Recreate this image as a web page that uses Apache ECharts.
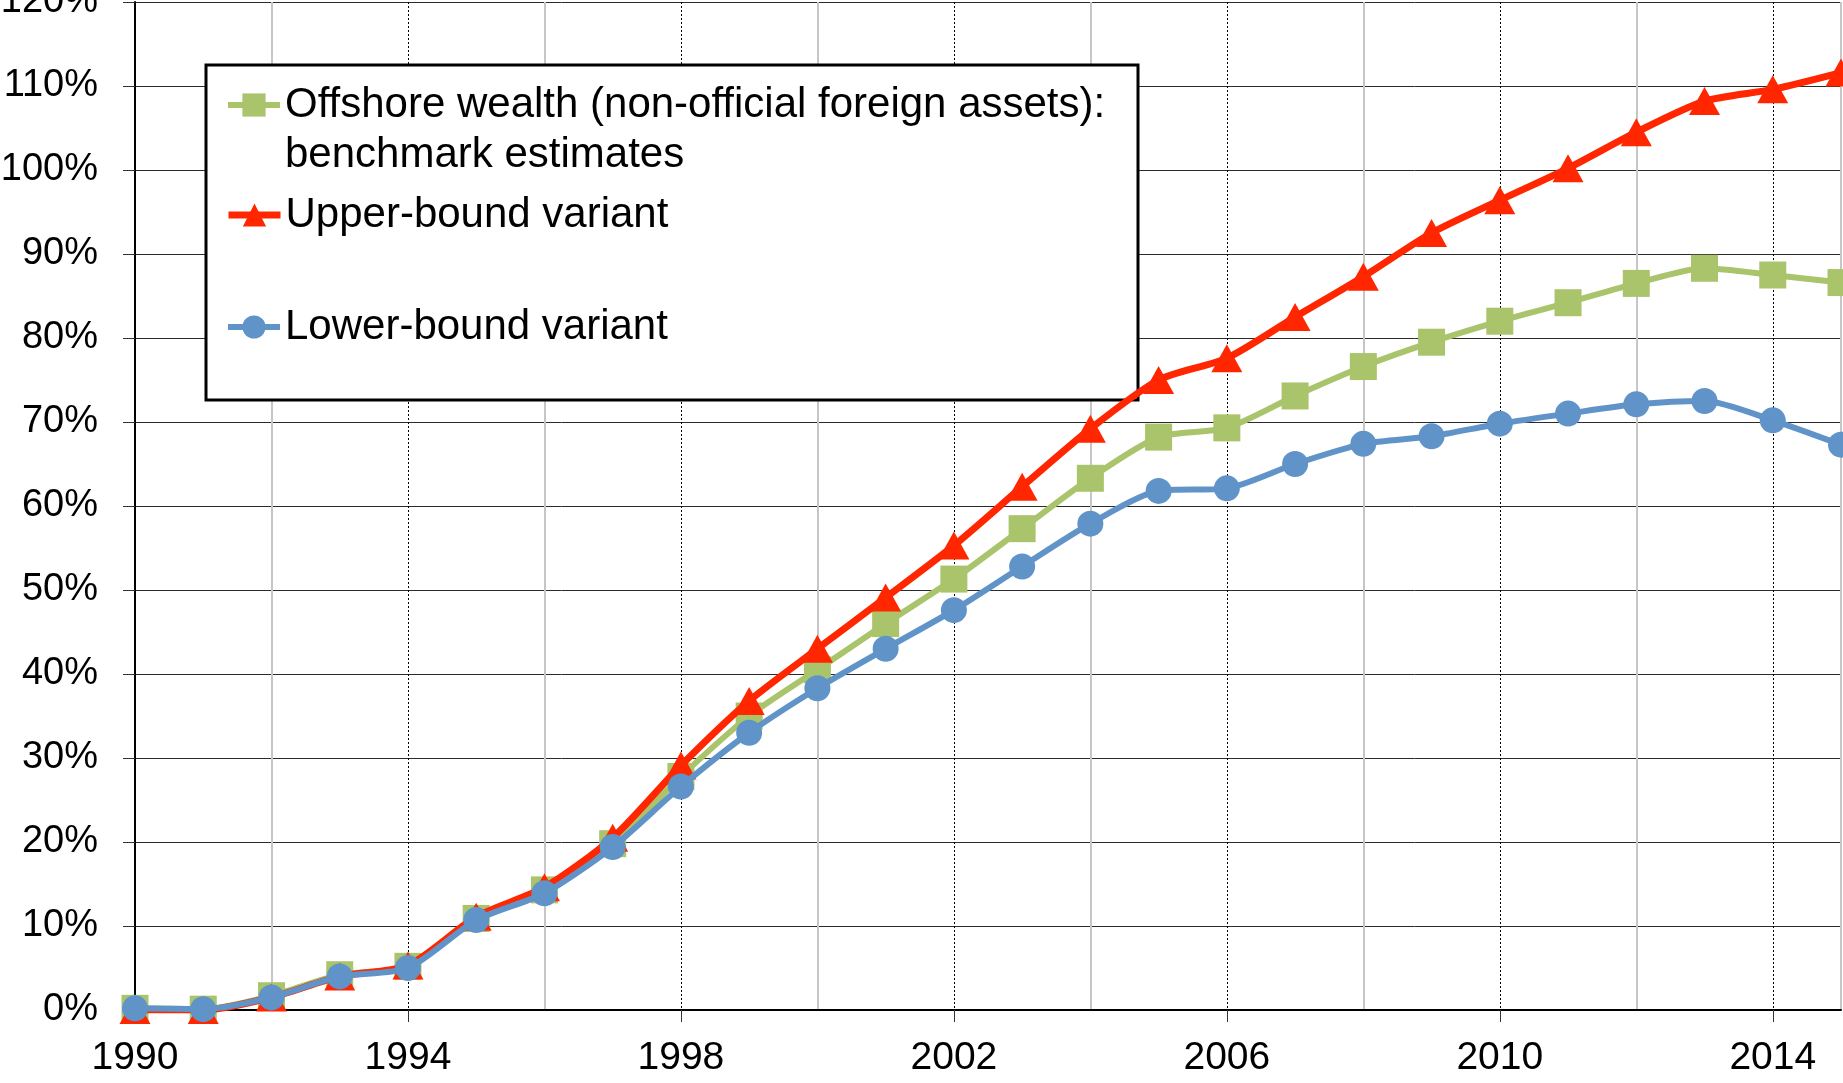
<!DOCTYPE html>
<html><head><meta charset="utf-8">
<script src="https://cdn.jsdelivr.net/npm/echarts@6/dist/echarts.min.js"></script>
<style>
html, body { margin: 0; padding: 0; background: #fff; }
#main { width: 1843px; height: 1083px; }
</style>
</head><body><div id="main"></div>
<script>
var years = [1990, 1991, 1992, 1993, 1994, 1995, 1996, 1997, 1998, 1999, 2000, 2001, 2002,
             2003, 2004, 2005, 2006, 2007, 2008, 2009, 2010, 2011, 2012, 2013, 2014, 2015];
// % of national income
var benchmark = [0.2, 0.1, 1.7, 4.2, 5.2, 10.9, 14.3, 19.8, 27.8, 35.0, 40.5, 46.0, 51.3,
                 57.3, 63.3, 68.2, 69.3, 73.1, 76.6, 79.5, 82.0, 84.2, 86.5, 88.3, 87.5, 86.6];
var upper = [0.0, 0.0, 1.5, 4.0, 5.3, 11.1, 14.6, 20.5, 29.1, 36.8, 43.0, 49.1, 55.3,
             62.3, 69.2, 75.0, 77.6, 82.5, 87.3, 92.5, 96.4, 100.2, 104.5, 108.2, 109.6, 111.6];
var lower = [0.2, 0.1, 1.5, 4.0, 5.0, 10.7, 13.9, 19.4, 26.6, 33.0, 38.3, 43.0, 47.6,
             52.8, 57.9, 61.8, 62.1, 65.0, 67.4, 68.3, 69.8, 71.0, 72.1, 72.5, 70.2, 67.3];
var seriesNames = [
  'Offshore wealth (non-official foreign assets):\nbenchmark estimates',
  'Upper-bound variant',
  'Lower-bound variant'
];
var yMin = 0, yMax = 120, yStep = 10;
var xMin = 1990, xMax = 2015, xMajor = 4, xMinor = 2;

function pairs(vals) {
  return years.map(function (y, i) { return [y, vals[i]]; });
}

var font = 'Liberation Sans, Arial, Helvetica, sans-serif';
var chart = echarts.init(document.getElementById('main'));

function legendAt(name, top, lw, fmt) {
  return {
    data: [name],
    orient: 'vertical',
    left: 225,
    top: top,
    padding: 0,
    itemWidth: 52,
    itemHeight: 29,
    selectedMode: false,
    formatter: fmt,
    lineStyle: { width: lw },
    textStyle: { fontSize: 42, lineHeight: 50, fontFamily: font, color: '#000' }
  };
}

chart.setOption({
  animation: false,
  backgroundColor: '#fff',
  grid: { left: 135, right: 2, top: 2, bottom: 73, outerBoundsMode: 'none', containLabel: false },
  graphic: [{
    type: 'rect',
    z: 1,
    shape: { x: 206, y: 65, width: 932, height: 335 },
    style: { fill: '#fff', stroke: '#000', lineWidth: 3 }
  }],
  legend: [
    legendAt(seriesNames[0], 30, 6, function (n) { return '\n' + n; }),
    legendAt(seriesNames[1], 190, 7),
    legendAt(seriesNames[2], 302, 6)
  ],
  xAxis: [{
    type: 'value',
    min: xMin, max: xMax, interval: xMajor,
    axisLine: { lineStyle: { color: '#000', width: 2 } },
    axisTick: { length: 12, lineStyle: { color: '#333', width: 1 } },
    axisLabel: {
      fontSize: 39, fontFamily: font, color: '#000', margin: 29, showMaxLabel: false,
      formatter: function (v) { return String(v); }
    },
    splitLine: { show: true, lineStyle: { color: '#000', type: [2, 2], width: 1 } }
  }, {
    type: 'value',
    min: xMin, max: xMax, interval: xMinor,
    position: 'bottom',
    axisLine: { show: false },
    axisTick: { show: false },
    axisLabel: { show: false },
    splitLine: { show: true, lineStyle: { color: ['transparent', '#c6c6c6'], width: 2 } }
  }],
  yAxis: {
    type: 'value',
    min: yMin, max: yMax, interval: yStep,
    axisLine: { show: true, lineStyle: { color: '#000', width: 2 } },
    axisTick: { show: true, length: 12, lineStyle: { color: '#333' } },
    axisLabel: { fontSize: 38, fontFamily: font, color: '#000', margin: 37, formatter: '{value}%' },
    splitLine: { lineStyle: { color: '#2a2a2a', width: 1 } }
  },
  series: [{
    name: seriesNames[0],
    type: 'line',
    z: 2,
    smooth: 0.25,
    data: pairs(benchmark),
    symbol: 'rect',
    symbolSize: 27,
    color: '#a9c46b',
    lineStyle: { width: 6, color: '#a9c46b' }
  }, {
    name: seriesNames[1],
    type: 'line',
    z: 3,
    smooth: 0.25,
    data: pairs(upper),
    symbol: 'triangle',
    symbolSize: [31, 28],
    color: '#ff2600',
    lineStyle: { width: 7, color: '#ff2600' }
  }, {
    name: seriesNames[2],
    type: 'line',
    z: 4,
    smooth: 0.25,
    data: pairs(lower),
    symbol: 'circle',
    symbolSize: 26,
    color: '#6094c8',
    lineStyle: { width: 6, color: '#6094c8' }
  }]
});
</script></body></html>
